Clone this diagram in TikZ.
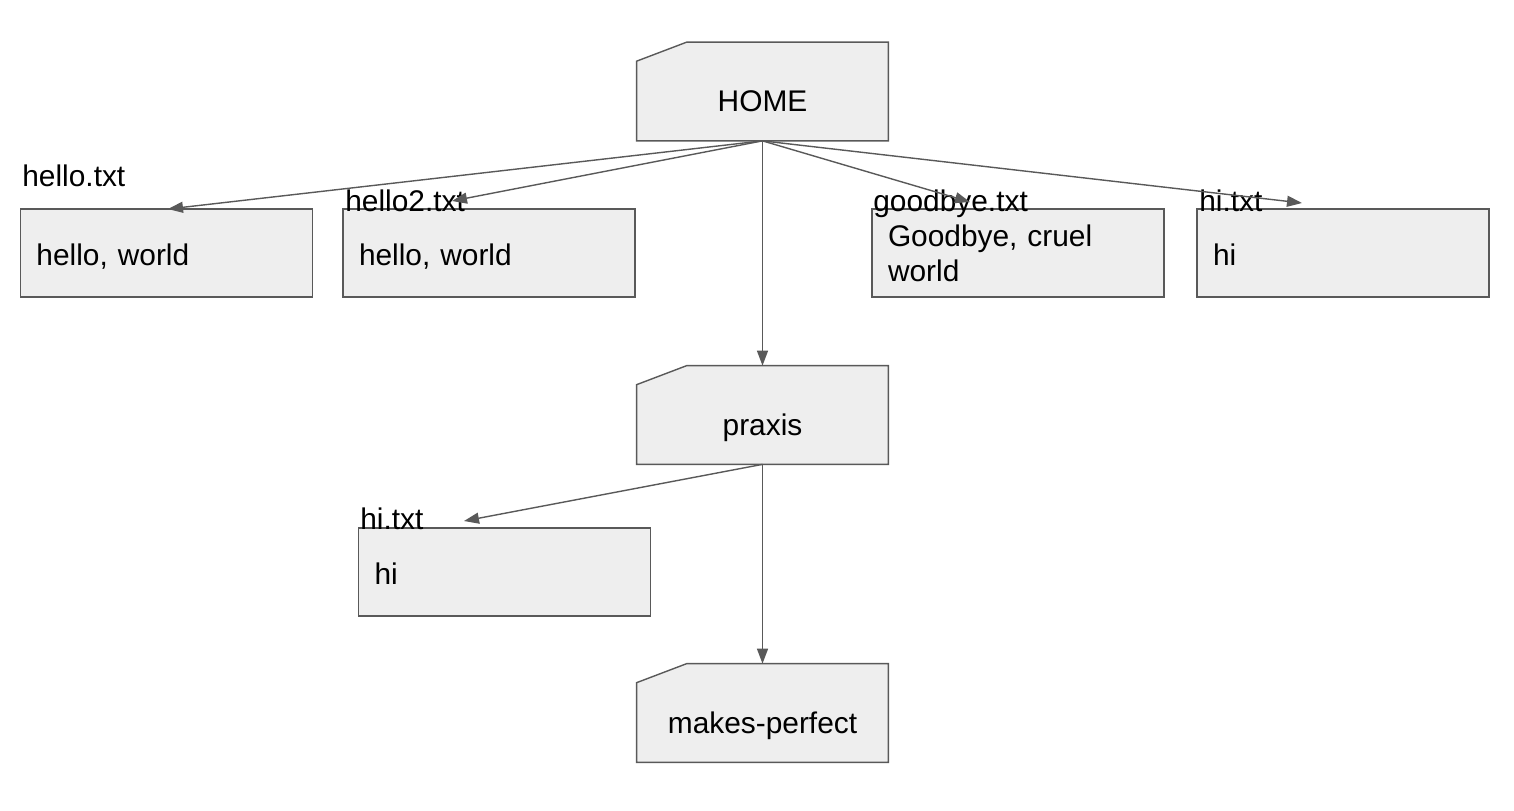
\documentclass[tikz,border=0pt]{standalone}
\usepackage{fontspec}
\setmainfont{Liberation Sans}
\usetikzlibrary{arrows.meta, backgrounds}
\definecolor{boxfill}{HTML}{EEEEEE}
\definecolor{linegray}{HTML}{595959}
\tikzstyle{folder} = [rectangle,
minimum width=50.2mm,
minimum height=19.6mm,
text centered,
text height=8mm,
text depth=0mm,
inner sep=0pt]
\tikzstyle{file} = [rectangle,
minimum width=58.4mm,
minimum height=17.6mm,
text width=52mm,
inner xsep=3.2mm,
inner ysep=0pt,
align=left,
draw=linegray,
line width=0.28mm,
fill=boxfill]
\tikzstyle{oneline} = [text height=4.8mm, text depth=0mm]
\tikzstyle{fname} = [inner sep=0pt, anchor=base west]
\tikzstyle{arrow} = [line width=0.28mm, draw=linegray, -{Triangle[length=3mm, width=2.2mm]}]

\begin{document}
\begin{tikzpicture}[x=0.2mm, y=-0.2mm, font=\fontsize{17}{20}\selectfont]
			\useasboundingbox (0,0) rectangle (1514,810);
			% folders
			\node (home) [folder] at (762.5,91.5) {HOME};
			\node (praxis) [folder] at (762.5,415) {praxis};
			\node (perfect) [folder] at (762.5,713) {makes-perfect};
			\begin{scope}[on background layer]
				\foreach \f in {home, praxis, perfect}
					\filldraw[draw=linegray, fill=boxfill, line width=0.28mm] (\f.south west) -- ([yshift=-3.8mm]\f.north west) -- ([xshift=10mm]\f.north west) -- (\f.north east) -- (\f.south east) -- cycle;
			\end{scope}

			% files
			\node (hello) [file, oneline] at (166.5,253) {hello, world};
			\node (hellotwo) [file, oneline] at (489,253) {hello, world};
			\node (goodbye) [file] at (1018,253) {Goodbye, cruel\\world};
			\node (hi) [file, oneline] at (1343,253) {hi};
			\node (hitwo) [file, oneline] at (504.5,572) {hi};

			\node (lblhello) [fname] at (22,186) {hello.txt};
			\node (lblhellotwo) [fname] at (345,211) {hello2.txt};
			\node (lblgoodbye) [fname] at (873,211) {goodbye.txt};
			\node (lblhi) [fname] at (1199,211) {hi.txt};
			\node (lblhitwo) [fname] at (360,529) {hi.txt};

			\coordinate (endhello) at (168,209);
			\coordinate (endhellotwo) at (452,201);
			\coordinate (endgoodbye) at (970,202);
			\coordinate (endhi) at (1302,203);
			\coordinate (endhitwo) at (464,521);

			\draw[arrow] (home.south) -- (endhello);
			\draw[arrow] (home.south) -- (endhellotwo);
			\draw[arrow] (home.south) -- (endgoodbye);
			\draw[arrow] (home.south) -- (endhi);
			\draw[arrow] (home.south) -- (praxis.north);
			\draw[arrow] (praxis.south) -- (endhitwo);
			\draw[arrow] (praxis.south) -- (perfect.north);
		\end{tikzpicture}
\end{document}
